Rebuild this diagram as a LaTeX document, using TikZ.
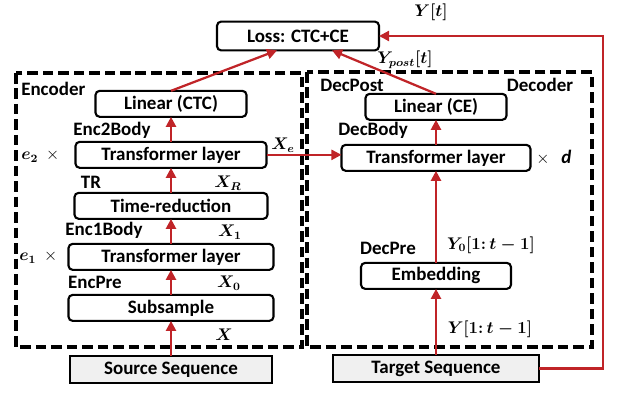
\documentclass[tikz,border=0pt]{standalone}
\usepackage{amsmath, amssymb}
\usepackage{fontspec}
\setmainfont{Carlito}
\usetikzlibrary{arrows.meta, positioning}
\definecolor{flowred}{RGB}{192,36,40}
\definecolor{seqgray}{RGB}{240,240,240}

\begin{document}
\begin{tikzpicture}[
x=0.025cm, y=-0.025cm,
node distance=0.625cm,
every node/.style={font=\bfseries\fontsize{13.5}{15}\selectfont, align=center, inner sep=0pt},
block/.style={rectangle, rounded corners=3pt, draw=black, line width=1.5pt, outer sep=0pt, minimum height=0.65cm},
seqbox/.style={rectangle, draw=black, fill=seqgray, line width=1.8pt, outer sep=0pt, minimum height=0.68cm},
groupbox/.style={draw=black, line width=2.2pt, dash pattern=on 7.5pt off 3.5pt},
arrow/.style={-{Triangle[length=2.5mm, width=2.5mm]}, draw=flowred, line width=1.6pt},
sym/.style={font=\boldmath\fontsize{12}{14}\selectfont}
]
\useasboundingbox (0,0) rectangle (622,400);

\draw[groupbox] (16,73) rectangle (302,347);
\draw[groupbox] (307,72) rectangle (592,347);

\node[seqbox, minimum width=5.05cm] (src) at (171,369.5) {Source Sequence};
\node[block, minimum width=5.125cm, above=0.875cm of src] (sub) {Subsample};
\node[block, minimum width=5.125cm, above=of sub] (enc1) {Transformer layer};
\node[block, minimum width=4.825cm, above=of enc1] (tr) {Time-reduction};
\node[block, minimum width=4.775cm, above=of tr] (enc2) {Transformer layer};
\node[block, minimum width=3.775cm, above=of enc2] (linctc) {Linear (CTC)};

\node[seqbox, minimum width=5.15cm] (tgt) at (436,368.5) {Target Sequence};
\node[block, minimum width=3.75cm, above=1.65cm of tgt] (emb) {Embedding};
\node[block, minimum width=4.725cm, above=2.3cm of emb] (dec) {Transformer layer};
\node[block, minimum width=3.525cm, above=of dec] (lince) {Linear (CE)};

\node[block, minimum width=4.05cm, minimum height=0.72cm] (loss) at (298,36) {Loss: CTC+CE};

\node[anchor=west] (enclbl) at (21,89) {Encoder};
\node (decpostlbl) at (352,85) {DecPost};
\node (declbl) at (540,85) {Decoder};
\node (enc2lbl) at (112,130) {Enc2Body};
\node (trlbl) at (91,182) {TR};
\node (enc1lbl) at (104,230) {Enc1Body};
\node (encprelbl) at (95,282) {EncPre};
\node (decbodylbl) at (373,130) {DecBody};
\node (decprelbl) at (388,248) {DecPre};

\node[sym] (xe) at (283,145) {$X_e$};
\node[sym] (xr) at (228,183) {$X_R$};
\node[sym] (x1) at (230,232) {$X_1$};
\node[sym] (x0) at (229,283) {$X_0$};
\node[sym] (x) at (224,335) {$X$};
\node[sym] (yt) at (431,12) {$Y[t]$};
\node[sym] (ypost) at (405,60) {$Y_{post}[t]$};
\node[sym] (y0) at (491,245) {$Y_0[1{:}\,t-1]$};
\node[sym] (yin) at (490,329) {$Y[1{:}\,t-1]$};
\node[sym, anchor=west] (e2) at (21,156) {$e_2$\hspace{0.2cm}{\unboldmath$\times$}};
\node[sym, anchor=west] (e1) at (19,257) {$e_1$\hspace{0.2cm}{\unboldmath$\times$}};
\node[anchor=west] (dtimes) at (536,158) {{\mdseries\fontsize{12}{14}\selectfont$\times$}\hspace{0.3cm}\textit{d}};

\draw[arrow] (src) -- (sub);
\draw[arrow] (sub) -- (enc1);
\draw[arrow] (enc1) -- (tr);
\draw[arrow] (tr) -- (enc2);
\draw[arrow] (enc2) -- (linctc);
\draw[arrow] (linctc.north) -- ([xshift=-0.525cm]loss.south);
\draw[arrow] (enc2.east) -- (enc2.east -| dec.west);
\draw[arrow] (tgt) -- (emb);
\draw[arrow] (emb) -- (dec);
\draw[arrow] (dec) -- (lince);
\draw[arrow] (lince.north) -- ([xshift=0.85cm]loss.south);
\coordinate (ret) at (603,36);
\draw[arrow] (tgt.east) -| (ret) -- (loss.east);

\end{tikzpicture}
\end{document}
